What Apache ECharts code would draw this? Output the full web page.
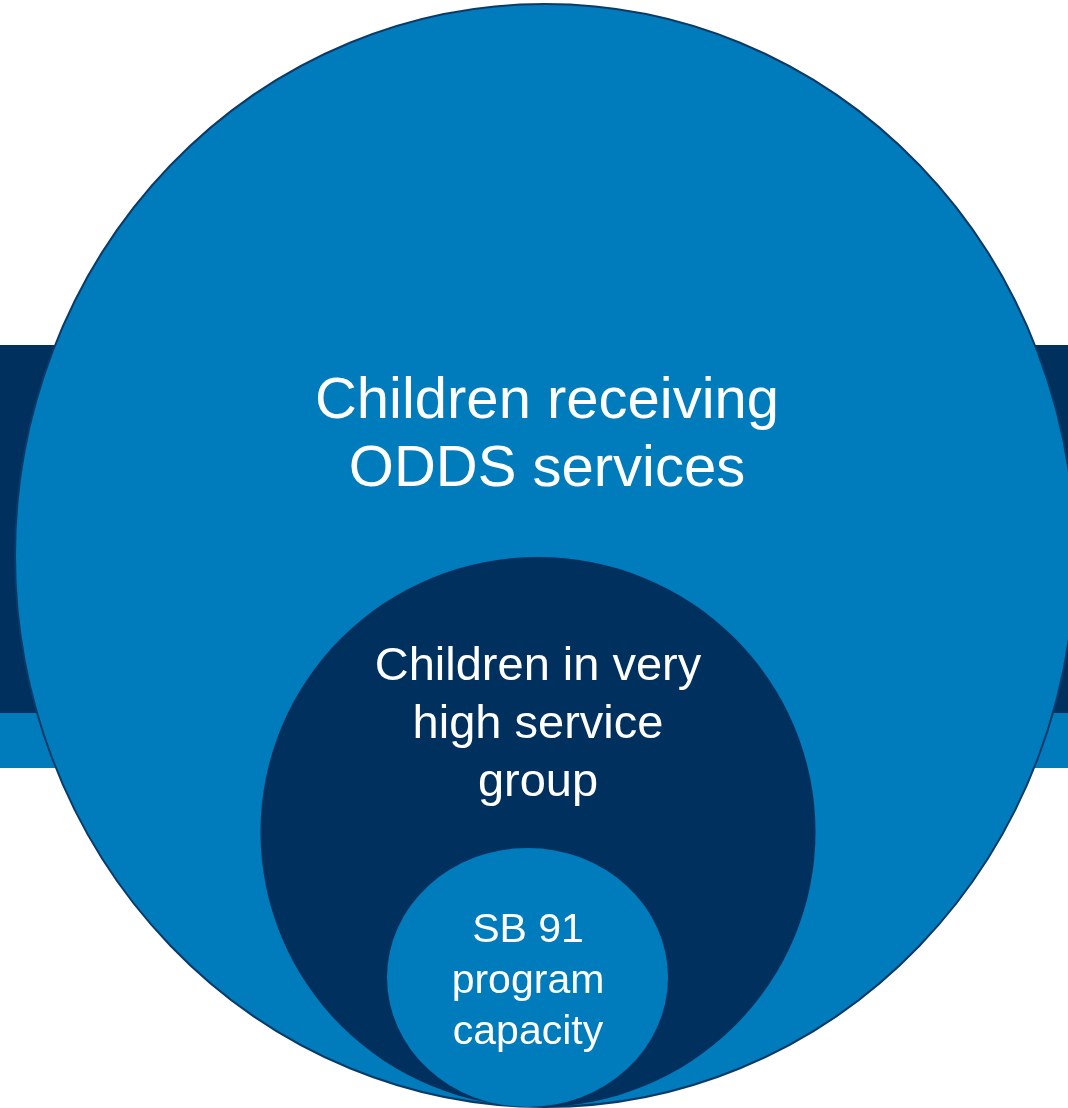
<!DOCTYPE html>
<html>
<head>
<meta charset="utf-8">
<style>
  html, body { margin: 0; padding: 0; background: #ffffff; }
  #chart { width: 1068px; height: 1108px; }
</style>
<script src="https://cdn.jsdelivr.net/npm/echarts@6/dist/echarts.min.js"></script>
</head>
<body>
<div id="chart"></div>
<script>
// ---- Data (diagram coordinate space: x 0..1068, y 0..1108, y downward) ----
var circleNames = [
  'Children receiving\nODDS services',
  'Children in very\nhigh service\ngroup',
  'SB 91\nprogram\ncapacity'
];
var circleCenterX = [545, 538, 527.5];
var circleCenterY = [555.5, 832, 977.5];
var circleRadiusX = [530, 277.5, 140.5];
var circleRadiusY = [551.5, 275, 129.5];
var labelCenterX = [547, 538, 528];
var labelCenterY = [436, 725, 982];

var bandTop = [345, 713];
var bandBottom = [713, 768];

// ---- Styles ----
var circleFill = ['#007bbb', '#00305e', '#007bbb'];
var circleStroke = ['#0b3a68', null, null];
var labelSize = [58, 47, 41];
var labelLineHeight = [68.5, 58, 51];
var bandFill = ['#00305e', '#007bbb'];

var circleData = circleNames.map(function (n, i) {
  return [circleCenterX[i], circleCenterY[i], circleRadiusX[i], circleRadiusY[i], labelCenterX[i], labelCenterY[i]];
});
var bandData = bandTop.map(function (t, i) { return [t, bandBottom[i]]; });

var chart = echarts.init(document.getElementById('chart'), null, { renderer: 'canvas' });

chart.setOption({
  backgroundColor: '#ffffff',
  animation: false,
  grid: { left: 0, right: 0, top: 0, bottom: 0 },
  xAxis: { type: 'value', min: 0, max: 1068, show: false },
  yAxis: { type: 'value', min: 0, max: 1108, inverse: true, show: false },
  series: [
    {
      type: 'custom',
      name: 'bands',
      data: bandData,
      clip: true,
      renderItem: function (params, api) {
        var p0 = api.coord([0, api.value(0)]);
        var p1 = api.coord([1068, api.value(1)]);
        return {
          type: 'rect',
          shape: { x: p0[0], y: p0[1], width: p1[0] - p0[0], height: p1[1] - p0[1] },
          style: { fill: bandFill[params.dataIndex] }
        };
      }
    },
    {
      type: 'custom',
      name: 'circles',
      data: circleData,
      clip: false,
      renderItem: function (params, api) {
        var i = params.dataIndex;
        var c = api.coord([api.value(0), api.value(1)]);
        var sz = api.size([api.value(2), api.value(3)]);
        var rx = sz[0], ry = sz[1];
        var d = 'M' + (c[0] - rx) + ' ' + c[1] +
          ' A' + rx + ' ' + ry + ' 0 1 0 ' + (c[0] + rx) + ' ' + c[1] +
          ' A' + rx + ' ' + ry + ' 0 1 0 ' + (c[0] - rx) + ' ' + c[1] + ' Z';
        var lc = api.coord([api.value(4), api.value(5)]);
        var style = { fill: circleFill[i] };
        if (circleStroke[i]) { style.stroke = circleStroke[i]; style.lineWidth = 2; }
        return {
          type: 'group',
          children: [
            { type: 'path', shape: { pathData: d }, style: style },
            {
              type: 'text',
              x: lc[0], y: lc[1],
              style: {
                text: circleNames[i],
                fill: '#ffffff',
                fontSize: labelSize[i],
                fontFamily: '"Liberation Sans", Arial, sans-serif',
                lineHeight: labelLineHeight[i],
                align: 'center',
                verticalAlign: 'middle'
              }
            }
          ]
        };
      }
    }
  ]
});
</script>
</body>
</html>
